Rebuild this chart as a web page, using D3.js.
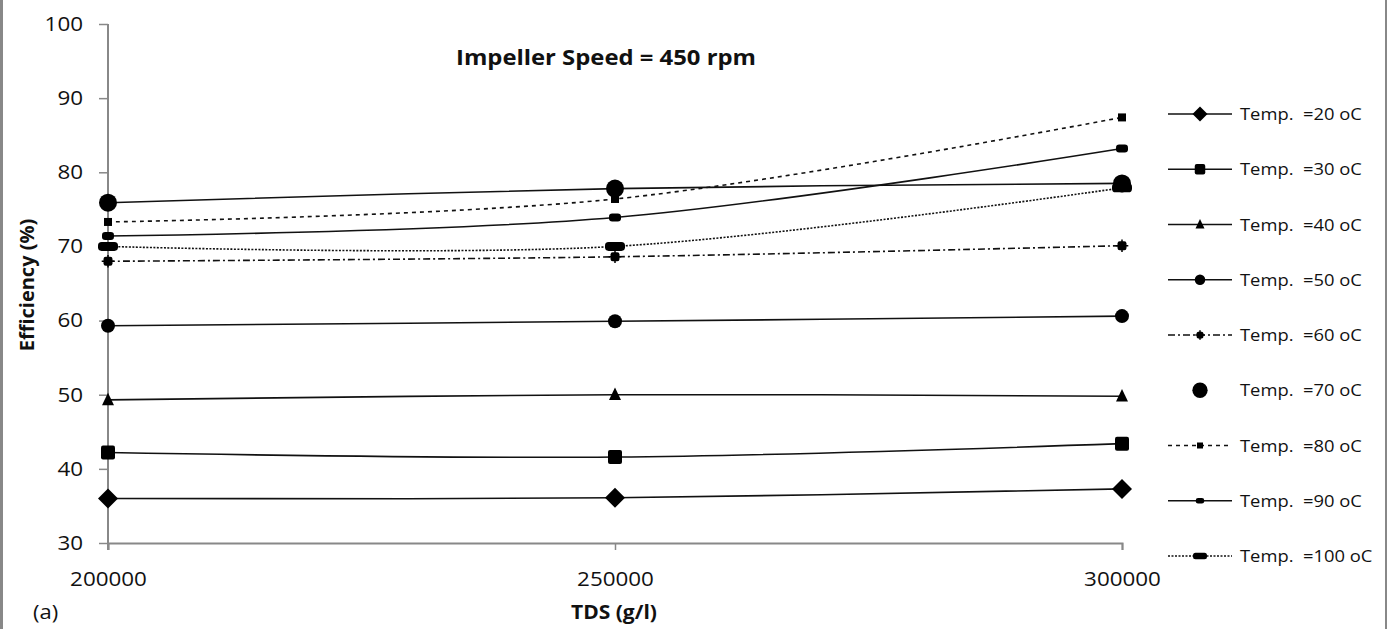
<!DOCTYPE html>
<html>
<head>
<meta charset="utf-8">
<script src="https://cdn.jsdelivr.net/npm/d3@7"></script>
<style>
  html, body { margin: 0; padding: 0; background: #fff; }
  svg { display: block; font-family: "Open Sans", Lato, sans-serif; }
</style>
</head>
<body>
<svg id="chart" width="1389" height="629"></svg>
<script>
// TDS values on the x axis (g/l)
const tds = [200000, 250000, 300000];

// Efficiency (%) for each temperature at the three TDS levels
const temp20  = [36.0, 36.1, 37.3];
const temp30  = [42.2, 41.6, 43.4];
const temp40  = [49.3, 50.0, 49.8];
const temp50  = [59.3, 59.9, 60.6];
const temp60  = [68.0, 68.6, 70.1];
const temp70  = [75.9, 77.8, 78.5];
const temp80  = [73.3, 76.4, 87.4];
const temp90  = [71.4, 73.9, 83.2];
const temp100 = [70.0, 70.0, 77.9];

const seriesNames = ["Temp.  =20 oC", "Temp.  =30 oC", "Temp.  =40 oC", "Temp.  =50 oC",
  "Temp.  =60 oC", "Temp.  =70 oC", "Temp.  =80 oC", "Temp.  =90 oC", "Temp.  =100 oC"];
const seriesValues = [temp20, temp30, temp40, temp50, temp60, temp70, temp80, temp90, temp100];

const yTicks = [30, 40, 50, 60, 70, 80, 90, 100];
const xTicks = [200000, 250000, 300000];

// Per-series drawing style: dash pattern, marker shape and marker size
const styles = [
  { dash: null,      marker: "diamond", size: 10 },
  { dash: null,      marker: "square",  size: 14 },
  { dash: null,      marker: "triangle",size: 12 },
  { dash: null,      marker: "circle",  size: 14 },
  { dash: "7,3,2,3", marker: "star",    size: 9 },
  { dash: null,      marker: "bigcircle", size: 18, noLegendLine: true },
  { dash: "4,4",     marker: "square",  size: 8 },
  { dash: null,      marker: "rect",    w: 12, h: 8 },
  { dash: "2,1.5",   marker: "rect",    w: 20, h: 9 }
];

const svg = d3.select("#chart");

// widen text a little (the chart uses a broad face)
function stretch(sel, factor) {
  sel.each(function () {
    const w = this.getComputedTextLength();
    d3.select(this).attr("textLength", w * factor).attr("lengthAdjust", "spacingAndGlyphs");
  });
}

// frame
svg.append("line").attr("x1", 1.5).attr("x2", 1.5).attr("y1", 0).attr("y2", 629)
  .attr("stroke", "#888").attr("stroke-width", 3);
svg.append("line").attr("x1", 1386).attr("x2", 1386).attr("y1", 0).attr("y2", 629)
  .attr("stroke", "#888").attr("stroke-width", 2);

const x = d3.scaleLinear().domain([200000, 300000]).range([108, 1122]);
const y = d3.scaleLinear().domain([30, 100]).range([543, 24]);

// axes
const gx = svg.append("g").attr("transform", `translate(0,${y(30)})`)
  .call(d3.axisBottom(x).tickValues(xTicks).tickSize(7).tickFormat(d3.format("d")));
const gy = svg.append("g").attr("transform", `translate(${x(200000)},0)`)
  .call(d3.axisLeft(y).tickValues(yTicks).tickSize(9));
[gx, gy].forEach(g => {
  g.select(".domain").attr("stroke", "#888").attr("stroke-width", 2);
  g.selectAll(".tick line").attr("stroke", "#888").attr("stroke-width", 1.5);
  g.selectAll(".tick text").attr("fill", "#111").attr("font-size", 20)
    .attr("font-family", "'Open Sans', Lato, sans-serif");
});
gy.select(".domain").attr("d", `M0,${y(100)}V${y(30) + 7}`);
gy.selectAll(".tick text").attr("x", -25);
gx.selectAll(".tick text").attr("y", 29);
stretch(gx.selectAll(".tick text"), 1.12);
stretch(gy.selectAll(".tick text"), 1.12);

// titles
const title = svg.append("text").attr("x", 606).attr("y", 65).attr("text-anchor", "middle")
  .attr("font-weight", "bold").attr("font-size", 22).attr("fill", "#111")
  .text("Impeller Speed = 450 rpm");
title.attr("textLength", 300).attr("lengthAdjust", "spacingAndGlyphs");
const xTitle = svg.append("text").attr("x", 614).attr("y", 619).attr("text-anchor", "middle")
  .attr("font-weight", "bold").attr("font-size", 20).attr("fill", "#111")
  .text("TDS (g/l)");
stretch(xTitle, 1.05);
const yTitle = svg.append("text").attr("transform", "translate(34,285) rotate(-90)")
  .attr("text-anchor", "middle").attr("font-weight", "bold").attr("font-size", 20)
  .attr("fill", "#111").text("Efficiency (%)");
const aLabel = svg.append("text").attr("x", 33).attr("y", 619).attr("font-size", 20).attr("fill", "#111")
  .text("(a)");
stretch(aLabel, 1.1);

// marker drawing helper
function drawMarker(g, st, cx, cy, scale) {
  const k = scale || 1;
  const m = st.marker;
  if (m === "diamond") {
    const s = st.size * k;
    g.append("path").attr("d", `M${cx},${cy - s}L${cx + s},${cy}L${cx},${cy + s}L${cx - s},${cy}Z`).attr("fill", "#000");
  } else if (m === "square") {
    const s = st.size * k;
    g.append("rect").attr("x", cx - s / 2).attr("y", cy - s / 2).attr("width", s).attr("height", s)
      .attr("rx", s > 10 ? 2 : 0).attr("fill", "#000");
  } else if (m === "triangle") {
    const s = st.size * k;
    g.append("path").attr("d", `M${cx},${cy - s * 0.6}L${cx + s / 2},${cy + s * 0.45}L${cx - s / 2},${cy + s * 0.45}Z`).attr("fill", "#000");
  } else if (m === "circle" || m === "bigcircle") {
    g.append("circle").attr("cx", cx).attr("cy", cy).attr("r", st.size * k / 2).attr("fill", "#000");
  } else if (m === "star") {
    const s = st.size * k;
    g.append("rect").attr("x", cx - s / 2).attr("y", cy - s / 2).attr("width", s).attr("height", s)
      .attr("rx", s / 4).attr("fill", "#000");
    g.append("path").attr("d", `M${cx},${cy - s * 0.7}V${cy + s * 0.7}M${cx - s * 0.7},${cy}H${cx + s * 0.7}`)
      .attr("stroke", "#000").attr("stroke-width", 1.5);
  } else if (m === "rect") {
    const w = st.w * k, h = st.h * k;
    g.append("rect").attr("x", cx - w / 2).attr("y", cy - h / 2).attr("width", w).attr("height", h)
      .attr("rx", h / 2.5).attr("fill", "#000");
  }
}

// smoothed series lines
const line = d3.line().x((d, i) => x(tds[i])).y(d => y(d)).curve(d3.curveCardinal.tension(0));
const plot = svg.append("g");
seriesValues.forEach((vals, si) => {
  const st = styles[si];
  plot.append("path").datum(vals).attr("d", line).attr("fill", "none")
    .attr("stroke", "#111").attr("stroke-width", 1.6)
    .attr("stroke-dasharray", st.dash);
});
seriesValues.forEach((vals, si) => {
  const g = plot.append("g");
  vals.forEach((v, i) => drawMarker(g, styles[si], x(tds[i]), y(v)));
});

// legend
const legend = svg.append("g");
const legendY = d3.scaleLinear().domain([0, 8]).range([114, 556]);
seriesNames.forEach((name, si) => {
  const st = styles[si];
  const ly = legendY(si);
  if (!st.noLegendLine) {
    legend.append("line").attr("x1", 1168).attr("x2", 1232).attr("y1", ly).attr("y2", ly)
      .attr("stroke", "#111").attr("stroke-width", 1.4).attr("stroke-dasharray", st.dash);
  }
  drawMarker(legend, st, 1200, ly, st.marker === "rect" ? 0.7 : (st.marker === "bigcircle" ? 0.85 : 0.75));
  const t = legend.append("text").attr("x", 1240).attr("y", ly + 6).attr("font-size", 17)
    .attr("fill", "#111").attr("xml:space", "preserve").style("white-space", "pre").text(name);
  stretch(t, 1.08);
});
</script>
</body>
</html>
